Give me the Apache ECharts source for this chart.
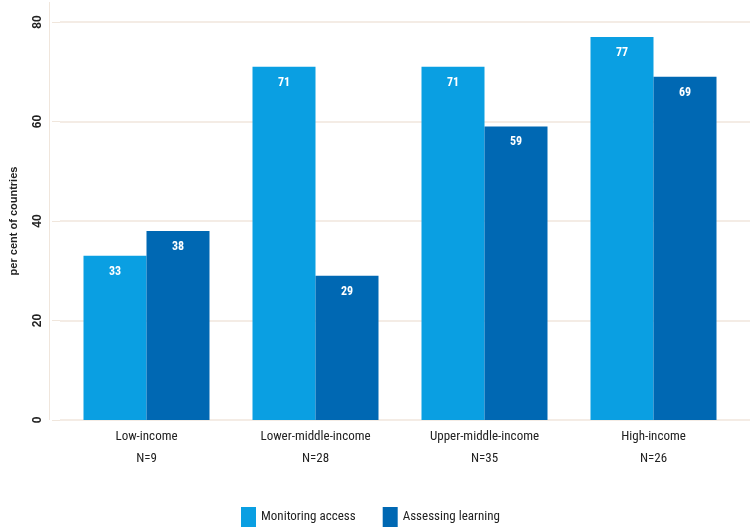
<!DOCTYPE html>
<html>
<head>
<meta charset="utf-8">
<script src="https://cdn.jsdelivr.net/npm/echarts@6/dist/echarts.min.js"></script>
<style>html,body{margin:0;padding:0;background:#fff;}#c{width:754px;height:531px;}</style>
</head>
<body>
<div id="c"></div>
<script>
const categories = ['Low-income', 'Lower-middle-income', 'Upper-middle-income', 'High-income'];
const sampleSizes = ['N=9', 'N=28', 'N=35', 'N=26'];
const monitoringAccess = [33, 71, 71, 77];
const assessingLearning = [38, 29, 59, 69];
const seriesNames = ['Monitoring access', 'Assessing learning'];
const yTicks = { min: 0, max: 80, interval: 20 };

const chart = echarts.init(document.getElementById('c'), null, { renderer: 'canvas' });
const grid = '#f0e6dc';
const labelFont = '"Liberation Sans Narrow", "Roboto Condensed", "Liberation Sans", sans-serif';
const barLabel = { show: true, position: 'insideTop', distance: 10, color: '#fff', fontWeight: 'bold', fontSize: 12, fontFamily: labelFont };
chart.setOption({
  animation: false,
  backgroundColor: '#fff',
  graphic: [{ type: 'line', shape: { x1: 49.5, y1: 2, x2: 49.5, y2: 420 }, style: { stroke: grid, lineWidth: 1 }, z: 0 }],
  grid: [
    { left: 50, right: 4, top: 22, bottom: 111 },
    { left: 62, right: 16, top: 22, bottom: 111 }
  ],
  xAxis: [
    { type: 'category', gridIndex: 0, data: categories, show: false },
    {
      type: 'category', gridIndex: 1, data: categories.map((c, i) => c + '\n' + sampleSizes[i]),
      axisLine: { show: false }, axisTick: { show: false },
      axisLabel: { color: '#222', fontSize: 13, lineHeight: 22, margin: 6, fontFamily: labelFont }
    }
  ],
  yAxis: [
    {
      type: 'value', gridIndex: 0, min: yTicks.min, max: yTicks.max, interval: yTicks.interval,
      name: 'per cent of countries', nameLocation: 'middle', nameGap: 41, nameRotate: 90,
      nameTextStyle: { color: '#222', fontSize: 11, fontWeight: 'bold', fontFamily: 'Liberation Sans, Arial, sans-serif' },
      axisLine: { show: false },
      axisTick: { show: true, length: 8, lineStyle: { color: grid } },
      axisLabel: { rotate: 90, color: '#222', fontSize: 12, fontWeight: 'bold', margin: 16, fontFamily: 'Liberation Sans, Arial, sans-serif' },
      splitLine: { show: true, lineStyle: { color: grid, width: 1.5 } }
    },
    { type: 'value', gridIndex: 1, min: yTicks.min, max: yTicks.max, interval: yTicks.interval, show: false, splitLine: { show: false } }
  ],
  legend: {
    bottom: 4, left: 241, padding: 0, itemWidth: 15, itemHeight: 20, itemGap: 27, icon: 'rect',
    textStyle: { color: '#222', fontSize: 13, fontFamily: labelFont },
    data: seriesNames
  },
  series: [
    { name: seriesNames[0], type: 'bar', xAxisIndex: 1, yAxisIndex: 1, data: monitoringAccess, barWidth: 63, barGap: '0%', itemStyle: { color: '#0a9fe2' }, label: barLabel },
    { name: seriesNames[1], type: 'bar', xAxisIndex: 1, yAxisIndex: 1, data: assessingLearning, barWidth: 63, barGap: '0%', itemStyle: { color: '#0068b3' }, label: barLabel }
  ]
});
</script>
</body>
</html>
